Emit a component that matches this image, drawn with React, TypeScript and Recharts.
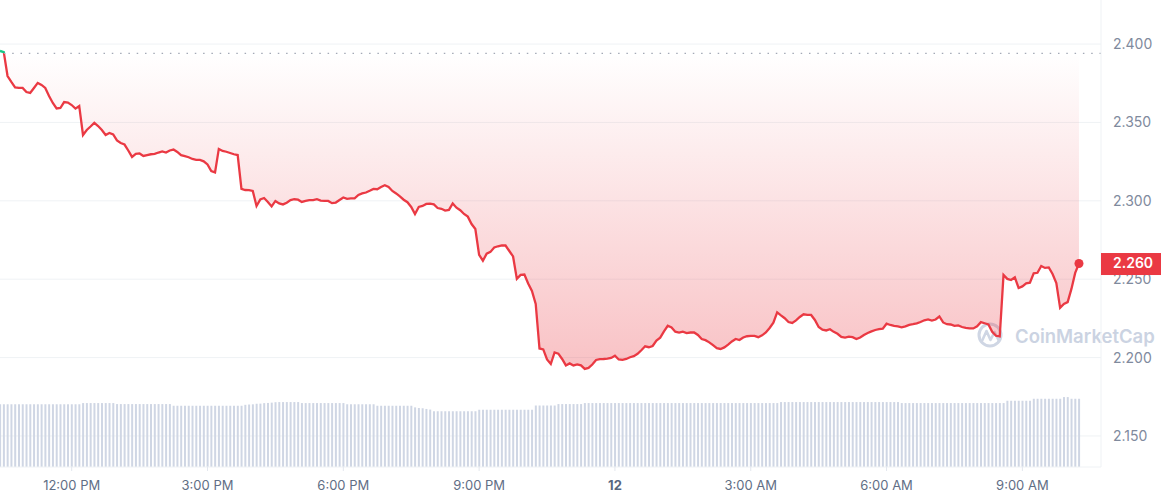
import {
  ComposedChart,
  Area,
  Bar,
  XAxis,
  YAxis,
  CartesianGrid,
  ReferenceLine,
  ReferenceDot,
} from "recharts";

// 5-minute samples, first one at 10:25 AM
const STEP_MIN = 5;

const prices = [
  2.3956, 2.3949, 2.3796, 2.3758, 2.3723, 2.372, 2.372, 2.3694, 2.3688, 2.372,
  2.3752, 2.3739, 2.372, 2.3669, 2.3624, 2.3589, 2.3592, 2.363, 2.3627, 2.3611,
  2.3588, 2.3605, 2.342, 2.3452, 2.3474, 2.3497, 2.3477, 2.3452, 2.342, 2.3433,
  2.3423, 2.3385, 2.3369, 2.3359, 2.3321, 2.328, 2.3299, 2.3302, 2.3286, 2.3292,
  2.3297, 2.3299, 2.3308, 2.3315, 2.3308, 2.3321, 2.3327, 2.3312, 2.3291, 2.3285,
  2.3278, 2.3267, 2.3261, 2.3261, 2.3252, 2.3232, 2.319, 2.3181, 2.3331, 2.3318,
  2.3313, 2.3305, 2.3297, 2.3292, 2.3076, 2.3069, 2.3068, 2.3063, 2.2967, 2.3009,
  2.3018, 2.2993, 2.2964, 2.2999, 2.2983, 2.2977, 2.2988, 2.3005, 2.301, 2.3007,
  2.2993, 2.2999, 2.3004, 2.3005, 2.301, 2.3001, 2.2999, 2.2999, 2.2985, 2.2989,
  2.3005, 2.3021, 2.3012, 2.3015, 2.3015, 2.3037, 2.3047, 2.3053, 2.3064, 2.3076,
  2.3074, 2.3088, 2.3099, 2.3088, 2.3063, 2.3047, 2.3028, 2.3007, 2.2991, 2.2961,
  2.2916, 2.2961, 2.2967, 2.298, 2.2982, 2.2977, 2.2954, 2.2949, 2.2938, 2.2942,
  2.2983, 2.2956, 2.294, 2.2916, 2.2899, 2.2852, 2.282, 2.2655, 2.2618, 2.2663,
  2.2674, 2.2702, 2.271, 2.2715, 2.2715, 2.268, 2.2645, 2.2502, 2.2527, 2.253,
  2.2473, 2.2425, 2.2342, 2.2058, 2.2052, 2.1988, 2.1959, 2.2033, 2.2025, 2.1991,
  2.195, 2.1963, 2.195, 2.1956, 2.195, 2.1928, 2.1934, 2.1956, 2.1985, 2.199,
  2.1991, 2.1994, 2.1998, 2.2012, 2.1988, 2.1985, 2.1991, 2.2002, 2.2009, 2.2024,
  2.2047, 2.2072, 2.2066, 2.2074, 2.2109, 2.2127, 2.2167, 2.2203, 2.2192, 2.2165,
  2.2159, 2.2165, 2.2156, 2.216, 2.216, 2.2144, 2.2118, 2.2111, 2.2097, 2.2079,
  2.206, 2.2055, 2.2065, 2.2083, 2.2103, 2.2119, 2.2112, 2.2128, 2.2136, 2.2138,
  2.2138, 2.213, 2.2142, 2.216, 2.2189, 2.2223, 2.2288, 2.2269, 2.2251, 2.2227,
  2.2221, 2.2237, 2.2259, 2.2276, 2.2272, 2.2272, 2.224, 2.2195, 2.2178, 2.2173,
  2.2181, 2.2164, 2.2152, 2.2132, 2.2128, 2.2133, 2.213, 2.2118, 2.2128, 2.2144,
  2.2157, 2.2167, 2.2176, 2.2181, 2.2184, 2.2216, 2.2208, 2.2202, 2.2199, 2.2193,
  2.2199, 2.2209, 2.2213, 2.2218, 2.2227, 2.2238, 2.2243, 2.2236, 2.2243, 2.2262,
  2.2224, 2.2213, 2.2211, 2.2202, 2.2205, 2.2195, 2.219, 2.2186, 2.2186, 2.2199,
  2.2226, 2.2219, 2.2211, 2.2164, 2.2139, 2.2135, 2.2527, 2.2502, 2.2495, 2.2512,
  2.2444, 2.2454, 2.2473, 2.2478, 2.2538, 2.2541, 2.2584, 2.2572, 2.2575, 2.2533,
  2.2476, 2.2317, 2.2342, 2.2354, 2.2438, 2.254, 2.26,
];

// 24h volume (millions), one per price sample
const volumes = [
  100.5, 100.5, 100.5, 100.5, 100.5, 100.5, 100.5, 100.5, 100.5, 100.5,
  100.5, 100.5, 100.5, 100.5, 100.5, 100.5, 100.5, 100.5, 100.5, 100.5,
  100.5, 100.5, 102.4, 102.4, 102.4, 102.4, 102.4, 102.4, 102.4, 102.4,
  102.4, 100.8, 100.8, 100.8, 100.8, 100.8, 100.8, 100.8, 100.8, 100.8,
  100.8, 100.8, 100.8, 100.8, 100.8, 100.8, 98.1, 98.1, 98.1, 98.1,
  98.1, 98.1, 98.1, 98.1, 98.1, 98.1, 98.1, 98.1, 98.1, 98.1,
  98.1, 98.1, 98.1, 98.1, 98.1, 99.6, 100.1, 100.4, 101.2, 101.5,
  102.3, 102.6, 103.1, 103.8, 104, 104, 104, 104, 104, 104,
  102.4, 102.4, 102.4, 102.4, 102.4, 102.4, 102.4, 102.4, 102.4, 102.4,
  102.4, 102.4, 100.5, 100.5, 100.5, 100.5, 100.5, 100.5, 100.5, 100.5,
  98.1, 98.1, 98.1, 98.1, 98.1, 98.1, 98.1, 98.1, 98.1, 98.1,
  95.5, 94.5, 94.1, 93, 92, 89.3, 89.3, 89.3, 89.3, 89.3,
  89.3, 89.3, 89.3, 89.3, 89.3, 89.3, 89.3, 91.7, 91.7, 91.7,
  91.7, 91.7, 91.7, 91.7, 91.7, 91.7, 91.7, 91.7, 91.7, 91.7,
  91.7, 91.7, 98.5, 98.5, 98.5, 98.5, 98.5, 98.5, 100.8, 100.8,
  100.8, 100.8, 100.8, 100.8, 100.8, 102.4, 102.4, 102.4, 102.4, 102.4,
  102.4, 102.4, 102.4, 102.4, 102.4, 102.4, 102.4, 102.4, 102.4, 102.4,
  102.4, 102.4, 102.4, 102.4, 102.4, 102.4, 102.4, 102.4, 102.4, 102.4,
  102.4, 102.4, 102.4, 102.4, 102.4, 102.4, 102.4, 102.4, 102.4, 102.4,
  102.4, 102.4, 102.4, 102.4, 102.4, 102.4, 102.4, 102.4, 102.4, 102.4,
  102.4, 102.4, 102.4, 102.4, 102.4, 102.4, 102.4, 104, 104, 104,
  104, 104, 104, 104, 104, 104, 104, 104, 104, 104,
  104, 104, 104, 104, 104, 104, 104, 104, 104, 104,
  104, 104, 104, 104, 104, 104, 104, 104, 104, 102.4,
  102.4, 102.4, 102.4, 102.4, 102.4, 102.4, 102.4, 102.4, 102.4, 102.4,
  102.4, 102.4, 102.4, 102.4, 102.4, 102.4, 102.4, 102.4, 102.4, 102.4,
  102.4, 102.4, 102.4, 102.4, 102.4, 102.4, 102.4, 106.1, 106.1, 106.1,
  106.1, 106.1, 106.1, 106.1, 109.3, 109.3, 109.3, 109.3, 109.3, 109.3,
  109.3, 109.3, 112, 112, 109.3, 109.3, 109.3,
];

// minutes after the first sample
const tickMinutes = [95, 275, 455, 635, 815, 995, 1175, 1355];
const tickLabels = [
  "12:00 PM",
  "3:00 PM",
  "6:00 PM",
  "9:00 PM",
  "12",
  "3:00 AM",
  "6:00 AM",
  "9:00 AM",
];

const priceTicks = [2.15, 2.2, 2.25, 2.3, 2.35, 2.4];
const openPrice = 2.394;

const RED = "#ea3943";
const GREEN = "#16c784";
const GRID = "#eff2f5";
const FONT = "Inter, sans-serif";

const WIDTH = 1161;
const HEIGHT = 500;
const X_AXIS_H = 33;
const Y_AXIS_W = 60;
const PLOT_H = HEIGHT - X_AXIS_H;
const Y_MIN = 2.1302;
const Y_MAX = 2.4281;
const X_MAX = 1459.2;
const VOL_MAX = 748;

const rows = prices.map((p, i) => ({
  t: i * STEP_MIN,
  price: p,
  volume: volumes[i],
}));

const lastRow = rows[rows.length - 1];
const lastPrice = prices[prices.length - 1];

const toY = (v: number) => ((Y_MAX - v) / (Y_MAX - Y_MIN)) * PLOT_H;
const baseY = toY(openPrice);
const lowY = toY(Math.min(...prices));

function XTick(props: any) {
  const { x, y, payload } = props;
  const idx = tickMinutes.indexOf(payload.value);
  const label = tickLabels[idx] ?? "";
  const bold = label === "12";
  return (
    <text
      x={x}
      y={y}
      dy="0.71em"
      textAnchor="middle"
      fontFamily={FONT}
      fontSize={13}
      fontWeight={bold ? 700 : 400}
      fill={bold ? "#58667e" : "#616e85"}
    >
      {label}
    </text>
  );
}

function YTick(props: any) {
  const { x, y, payload } = props;
  const value = payload.value as number;
  if (value === lastPrice) {
    return (
      <g>
        <rect x={x - 12} y={y - 10.5} width={Y_AXIS_W} height={22} fill={RED} />
        <text
          x={x}
          y={y}
          dy="0.355em"
          fontFamily={FONT}
          fontSize={14}
          fontWeight={600}
          fill="#ffffff"
        >
          {value.toFixed(3)}
        </text>
      </g>
    );
  }
  return (
    <text
      x={x}
      y={y}
      dy="0.355em"
      fontFamily={FONT}
      fontSize={14}
      fill="#808a9d"
    >
      {value.toFixed(3)}
    </text>
  );
}

function Watermark() {
  return (
    <svg
      width={WIDTH}
      height={HEIGHT}
      style={{ position: "absolute", left: 0, top: 0 }}
    >
      <circle cx={990} cy={335} r={11} fill="none" stroke="#cfd6e4" strokeWidth={3} />
      <polyline
        points="982,341 986.5,331 990.5,340 994.5,332 999,341"
        fill="none"
        stroke="#cfd6e4"
        strokeWidth={2.6}
        strokeLinejoin="round"
      />
      <text
        x={1015}
        y={343}
        fontFamily={FONT}
        fontSize={18.5}
        fontWeight={600}
        fill="#cbd3e2"
      >
        CoinMarketCap
      </text>
    </svg>
  );
}

export default function App() {
  return (
    <div
      style={{
        position: "absolute",
        left: 0,
        top: 0,
        width: WIDTH,
        height: HEIGHT,
        background: "#ffffff",
        fontFamily: FONT,
      }}
    >
      <Watermark />
      <div style={{ position: "absolute", left: 0, top: 0 }}>
        <ComposedChart
          width={WIDTH}
          height={HEIGHT}
          data={rows}
          margin={{ top: 0, right: 0, bottom: 0, left: 0 }}
        >
          <defs>
            <linearGradient
              id="priceFill"
              x1={0}
              y1={baseY}
              x2={0}
              y2={lowY}
              gradientUnits="userSpaceOnUse"
            >
              <stop offset="0" stopColor={RED} stopOpacity={0} />
              <stop offset="1" stopColor={RED} stopOpacity={0.31} />
            </linearGradient>
            <linearGradient
              id="priceStroke"
              x1={0}
              y1={0}
              x2={0}
              y2={PLOT_H}
              gradientUnits="userSpaceOnUse"
            >
              <stop offset={baseY / PLOT_H} stopColor={GREEN} />
              <stop offset={baseY / PLOT_H} stopColor={RED} />
            </linearGradient>
          </defs>

          <CartesianGrid
            yAxisId="price"
            vertical={false}
            stroke={GRID}
            horizontalValues={priceTicks}
          />

          <XAxis
            dataKey="t"
            type="number"
            domain={[0, X_MAX]}
            allowDataOverflow
            ticks={tickMinutes}
            interval={0}
            tick={XTick}
            height={X_AXIS_H}
            axisLine={{ stroke: GRID }}
            tickLine={{ stroke: "#e3e7ee" }}
            tickSize={4}
            tickMargin={10}
          />

          <YAxis
            yAxisId="price"
            orientation="right"
            type="number"
            width={Y_AXIS_W}
            domain={[Y_MIN, Y_MAX]}
            allowDataOverflow
            ticks={[...priceTicks, lastPrice]}
            interval={0}
            tick={YTick}
            axisLine={{ stroke: GRID }}
            tickLine={false}
            tickMargin={6}
          />

          <YAxis yAxisId="vol" hide domain={[0, VOL_MAX]} />

          <Bar
            yAxisId="vol"
            dataKey="volume"
            fill="#cfd6e4"
            barSize={2}
            isAnimationActive={false}
          />

          <ReferenceLine
            yAxisId="price"
            y={openPrice}
            stroke="#a3a9b6"
            strokeWidth={1.3}
            strokeDasharray="1.5 6.8"
          />

          <Area
            yAxisId="price"
            dataKey="price"
            type="linear"
            stroke="url(#priceStroke)"
            strokeWidth={2.3}
            fill="url(#priceFill)"
            fillOpacity={1}
            baseValue={openPrice}
            dot={false}
            activeDot={false}
            isAnimationActive={false}
          />

          <ReferenceDot
            yAxisId="price"
            x={lastRow.t}
            y={lastPrice}
            r={4.5}
            fill={RED}
            stroke="none"
          />
        </ComposedChart>
      </div>
    </div>
  );
}
